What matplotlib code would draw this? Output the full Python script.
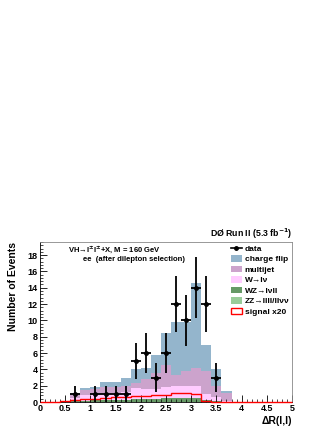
"""DØ Run II: Delta R(l,l) distribution, ee channel after dilepton selection."""

import numpy as np
import matplotlib
matplotlib.use('Agg')
import matplotlib.pyplot as plt
from matplotlib.patches import Patch
from matplotlib.lines import Line2D
from matplotlib.ticker import MultipleLocator, FuncFormatter

plt.rcParams['font.family'] = ['Liberation Sans', 'DejaVu Sans']
plt.rcParams['font.weight'] = 'bold'
plt.rcParams['mathtext.default'] = 'bf'

# 25 bins of width 0.2 from 0 to 5
bin_edges = np.linspace(0, 5, 26)
zz = [0, 0, 0, 0.03, 0.05, 0.05, 0.05, 0.05, 0.05, 0.05, 0.05, 0.05, 0.05,
      0.05, 0.05, 0.05, 0.05, 0.03, 0, 0, 0, 0, 0, 0, 0]
wz = [0, 0, 0, 0.07, 0.1, 0.15, 0.2, 0.2, 0.25, 0.3, 0.35, 0.35, 0.4,
      0.45, 0.5, 0.45, 0.25, 0.12, 0.05, 0, 0, 0, 0, 0, 0]
wlnu = [0, 0, 0.1, 0.4, 0.75, 0.7, 0.75, 0.85, 0.9, 1.35, 1.2, 1.2, 1.35,
        1.4, 1.45, 1.4, 0.7, 0.45, 0.05, 0, 0, 0, 0, 0, 0]
multijet = [0, 0, 0, 0.3, 0.6, 0.7, 0.8, 0.7, 0.8, 0.6, 1.2, 1.9, 2.75,
            1.4, 1.75, 2.25, 2.75, 1.4, 1.0, 0, 0, 0, 0, 0, 0]
charge_flip = [0, 0, 0.05, 0.3, 0.2, 0.25, 0.7, 0.6, 0.95, 1.8, 1.4, 2.3, 3.85,
               6.55, 6.1, 10.45, 3.25, 2.0, 0.2, 0, 0, 0, 0, 0, 0]
signal_x20 = [0, 0, 0.15, 0.3, 0.35, 0.4, 0.5, 0.6, 0.65, 0.75, 0.75, 0.85, 0.9,
              1.05, 1.1, 1.0, 0.1, 0.05, 0, 0, 0, 0, 0, 0, 0]

data_x = [0.7, 1.1, 1.3, 1.5, 1.7, 1.9, 2.1, 2.3, 2.5, 2.7, 2.9, 3.1, 3.3, 3.5]
data_y = [1, 1, 1, 1, 1, 5, 6, 3, 6, 12, 10, 14, 12, 3]

# stacked bottom to top
components = [
    ('ZZ→llll/llνν', zz, '#99cc99'),
    ('WZ→lνll', wz, '#669966'),
    ('W→lν', wlnu, '#ffccff'),
    ('multijet', multijet, '#cca3cc'),
    ('charge flip', charge_flip, '#94b5cc'),
]

fig = plt.figure(figsize=(3.32, 4.29), dpi=100)
ax = fig.add_axes([40 / 332, 1 - 402 / 429, 252 / 332, 160 / 429])

left = bin_edges[:-1]
width = np.diff(bin_edges)
bottom = np.zeros(len(left))
for label, vals, color in components:
    vals = np.array(vals)
    ax.bar(left, vals, width=width, bottom=bottom, align='edge',
           color=color, edgecolor='none', linewidth=0)
    bottom += vals

ax.stairs(signal_x20, bin_edges, color='red', linewidth=1.0, baseline=None,
          zorder=3, clip_on=False)

ax.errorbar(data_x, data_y, yerr=np.sqrt(data_y), xerr=0.1, fmt='o',
            color='black', markersize=2.5, elinewidth=1.3, capsize=0, zorder=4)

ax.set_xlim(0, 5)
ax.set_ylim(0, 19.6)
ax.xaxis.set_major_locator(MultipleLocator(0.5))
ax.xaxis.set_minor_locator(MultipleLocator(0.1))
ax.yaxis.set_major_locator(MultipleLocator(2))
ax.yaxis.set_minor_locator(MultipleLocator(0.4))
ax.xaxis.set_major_formatter(FuncFormatter(lambda v, p: f'{v:g}'))
ax.tick_params(axis='both', which='both', direction='in', labelsize=6.5, pad=1.5)
ax.tick_params(which='major', length=5, width=0.6)
ax.tick_params(which='minor', length=2.5, width=0.5)
for side in ['top', 'right']:
    ax.spines[side].set_color('#888888')
    ax.spines[side].set_linewidth(0.6)
for side in ['left', 'bottom']:
    ax.spines[side].set_linewidth(0.6)

fig.text(13 / 332, 1 - 242 / 429, 'Number of Events', rotation=90,
         ha='center', va='top', fontsize=7.5, fontweight='bold')
ax.text(1.0, -0.09, 'ΔR(l,l)', transform=ax.transAxes, ha='right',
        va='top', fontsize=7.5, fontweight='bold')
ax.text(1.0, 1.008, 'DØ Run II (5.3 fb$^{-1}$)', transform=ax.transAxes,
        ha='right', va='bottom', fontsize=6.3, fontweight='bold')

ax.text(0.111, 0.985, 'VH→l$^{\\pm}$l$^{\\pm}$+X, M = 160 GeV',
        transform=ax.transAxes, ha='left', va='top', fontsize=5.5)
ax.text(0.17, 0.915, 'ee  (after dilepton selection)',
        transform=ax.transAxes, ha='left', va='top', fontsize=5.5)

handles = [Line2D([], [], color='black', marker='o', markersize=2.5, linewidth=1.2)]
labels = ['data']
for label, vals, color in reversed(components):
    handles.append(Patch(facecolor=color, edgecolor='none'))
    labels.append(label)
handles.append(Patch(facecolor='white', edgecolor='red', linewidth=1.0))
labels.append('signal x20')
ax.legend(handles, labels, loc='upper right', bbox_to_anchor=(1.0, 1.0),
          frameon=False, fontsize=6, handlelength=1.3, handleheight=0.85,
          labelspacing=0.28, borderaxespad=0.1, borderpad=0.2,
          handletextpad=0.35)

fig.savefig('out.png', dpi=100)
